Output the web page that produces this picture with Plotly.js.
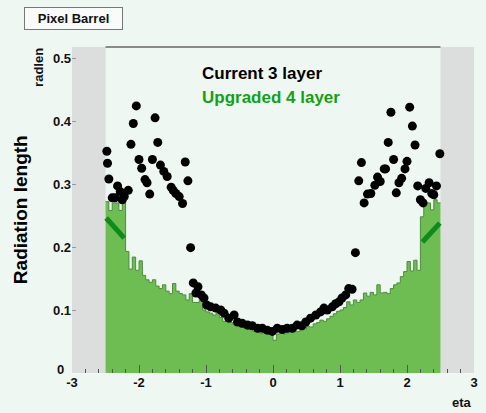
<!DOCTYPE html>
<html><head><meta charset="utf-8">
<script src="https://cdn.plot.ly/plotly-3.0.1.min.js"></script>
<style>html,body{margin:0;padding:0;background:#eff7f3;}#chart{width:486px;height:413px;}</style>
</head><body><div id="chart"></div>
<script>
// Upgraded 4 layer histogram: 100 bins of width 0.05 from eta -2.5 to 2.5
const binLow = -2.5, binWidth = 0.05;
const upgradedRad = [
 0.272,0.258,0.270,0.270,0.258,0.272,0.193,0.165,0.184,0.163,
 0.178,0.155,0.148,0.144,0.148,0.138,0.134,0.140,0.130,0.126,
 0.142,0.130,0.126,0.124,0.116,0.126,0.112,0.112,0.118,0.100,
 0.097,0.095,0.092,0.096,0.088,0.082,0.085,0.080,0.077,0.079,
 0.073,0.072,0.069,0.070,0.066,0.065,0.063,0.064,0.062,0.063,
 0.052,0.062,0.063,0.062,0.064,0.065,0.067,0.066,0.068,0.070,
 0.074,0.073,0.078,0.080,0.084,0.082,0.086,0.090,0.094,0.098,
 0.100,0.104,0.113,0.108,0.116,0.112,0.116,0.127,0.122,0.128,
 0.124,0.140,0.127,0.128,0.126,0.134,0.140,0.143,0.153,0.161,
 0.177,0.162,0.179,0.163,0.248,0.270,0.270,0.259,0.275,0.270
];
// Current 3 layer points
const currentEta = [
 -2.48,-2.47,-2.45,-2.40,-2.36,-2.32,-2.28,-2.25,-2.22,-2.16,-2.12,-2.085,-2.04,-2.00,-1.96,-1.91,-1.88,-1.84,-1.80,-1.76,
 -1.72,-1.68,-1.63,-1.58,-1.52,-1.49,-1.45,-1.40,-1.35,-1.31,-1.27,-1.23,-1.19,-1.15,-1.12,-1.07,-1.03,-0.99,-0.93,-0.855,
 -0.78,-0.73,-0.66,-0.58,-0.53,-0.46,-0.38,-0.31,-0.23,-0.16,-0.085,-0.01,0.064,0.14,0.21,0.29,0.36,0.43,0.49,0.56,
 0.64,0.71,0.76,0.81,0.885,0.935,0.985,1.03,1.085,1.13,1.18,1.23,1.28,1.32,1.36,1.41,1.46,1.52,1.56,1.60,
 1.66,1.68,1.72,1.76,1.80,1.84,1.88,1.92,1.97,2.00,2.04,2.08,2.12,2.16,2.20,2.24,2.28,2.33,2.37,2.40,2.44,2.49
];
const currentRad = [
 0.352,0.333,0.308,0.278,0.278,0.297,0.288,0.275,0.280,0.290,0.363,0.396,0.424,0.339,0.325,0.307,0.302,0.284,0.339,0.405,
 0.366,0.330,0.320,0.312,0.295,0.290,0.285,0.280,0.269,0.335,0.305,0.199,0.143,0.127,0.137,0.124,0.119,0.108,0.105,0.103,
 0.100,0.095,0.087,0.092,0.081,0.079,0.076,0.075,0.071,0.071,0.068,0.066,0.071,0.069,0.071,0.071,0.076,0.075,0.081,0.087,
 0.092,0.097,0.103,0.100,0.105,0.110,0.113,0.119,0.124,0.134,0.133,0.191,0.305,0.334,0.270,0.284,0.285,0.298,0.311,0.304,
 0.324,0.324,0.366,0.414,0.339,0.286,0.302,0.309,0.324,0.336,0.422,0.392,0.362,0.297,0.275,0.270,0.293,0.302,0.285,0.283,0.297,0.348
];
// green annotation strokes
const strokeLeftEta = [-2.49, -2.22], strokeLeftRad = [0.246, 0.214];
const strokeRightEta = [2.23, 2.49], strokeRightRad = [0.208, 0.238];
const xTicks = [-3,-2,-1,0,1,2,3];
const yTicks = [0.1,0.2,0.3,0.4,0.5];
const yTickText = ['0.1','0.2','0.3','0.4','0.5'];
const yZeroLabel = '0';
const xRange = [-3, 3], yRange = [0, 0.5175];

const histX = upgradedRad.map((v,i)=> binLow + i*binWidth);
histX.push(binLow + upgradedRad.length*binWidth);
const histY = upgradedRad.concat([upgradedRad[upgradedRad.length-1]]);

const bold = {family:'Liberation Sans, Arial, sans-serif', weight:'bold'};
const f = (size, color) => Object.assign({size:size, color:color}, bold);
const traces = [
 {x:histX, y:histY, type:'scatter', mode:'lines', line:{shape:'hv', color:'#4d8c3c', width:1}, fill:'tozeroy', fillcolor:'#6dbd52', hoverinfo:'skip'},
 {x:strokeLeftEta, y:strokeLeftRad, type:'scatter', mode:'lines', line:{color:'#0f8a1c', width:5}},
 {x:strokeRightEta, y:strokeRightRad, type:'scatter', mode:'lines', line:{color:'#0f8a1c', width:5}},
 {x:currentEta, y:currentRad, type:'scatter', mode:'markers', marker:{color:'#000', size:9}}
];
const layout = {
 width:486, height:413, showlegend:false,
 paper_bgcolor:'#eff7f3', plot_bgcolor:'#eff7f3',
 margin:{l:72, r:12, t:47, b:40},
 xaxis:{range:xRange, tickvals:xTicks, ticktext:xTicks.map(String), ticks:'inside', ticklen:8, tickcolor:'#555', tickwidth:1,
   showgrid:false, zeroline:false, showline:false, tickfont:f(13,'#111'),
   minor:{dtick:0.2, ticks:'inside', ticklen:4, tickcolor:'#555', showgrid:false}},
 yaxis:{range:yRange, tickvals:yTicks, ticktext:yTickText, ticks:'inside', ticklen:4, tickcolor:'#999',
   showgrid:false, zeroline:false, showline:false, tickfont:f(13,'#111')},
 shapes:[
  {type:'rect', xref:'x', yref:'paper', x0:-3, x1:-2.5, y0:0, y1:1, fillcolor:'#dcdedd', line:{width:0}, layer:'below'},
  {type:'rect', xref:'x', yref:'paper', x0:2.5, x1:3, y0:0, y1:1, fillcolor:'#dcdedd', line:{width:0}, layer:'below'},
  {type:'line', xref:'x', yref:'paper', x0:-2.5, x1:2.5, y0:1, y1:1, line:{color:'#8a8a8a', width:2}}
 ],
 annotations:[
  {text:'Pixel Barrel', xref:'paper', yref:'paper', x:0.004, y:1.0874, xanchor:'center', yanchor:'middle', showarrow:false,
   width:93, height:17, align:'center', valign:'middle',
   font:f(13,'#111'), bordercolor:'#777', borderwidth:1, borderpad:2, bgcolor:'#f8fbfa'},
  {text:'radlen', xref:'paper', yref:'paper', x:-0.082, y:0.936, textangle:-90, xanchor:'center', yanchor:'middle', showarrow:false,
   font:f(13,'#111')},
  {text:'Radiation length', xref:'paper', yref:'paper', x:-0.129, y:0.5, textangle:-90, xanchor:'center', yanchor:'middle', showarrow:false,
   font:f(19,'#000')},
  {text:yZeroLabel, xref:'paper', yref:'paper', x:-0.015, y:0.012, xanchor:'right', yanchor:'middle', showarrow:false,
   font:f(13,'#111')},
  {text:'eta', xref:'paper', yref:'paper', x:1.0, y:-0.062, xanchor:'right', yanchor:'top', showarrow:false,
   font:f(13,'#111')},
  {text:'Current 3 layer', xref:'paper', yref:'paper', x:0.318, y:0.92, xanchor:'left', yanchor:'middle', showarrow:false,
   font:f(17,'#000')},
  {text:'Upgraded 4 layer', xref:'paper', yref:'paper', x:0.318, y:0.8436, xanchor:'left', yanchor:'middle', showarrow:false,
   font:f(17,'#16a016')}
 ]
};
Plotly.newPlot('chart', traces, layout, {displayModeBar:false, staticPlot:true});
</script></body></html>
